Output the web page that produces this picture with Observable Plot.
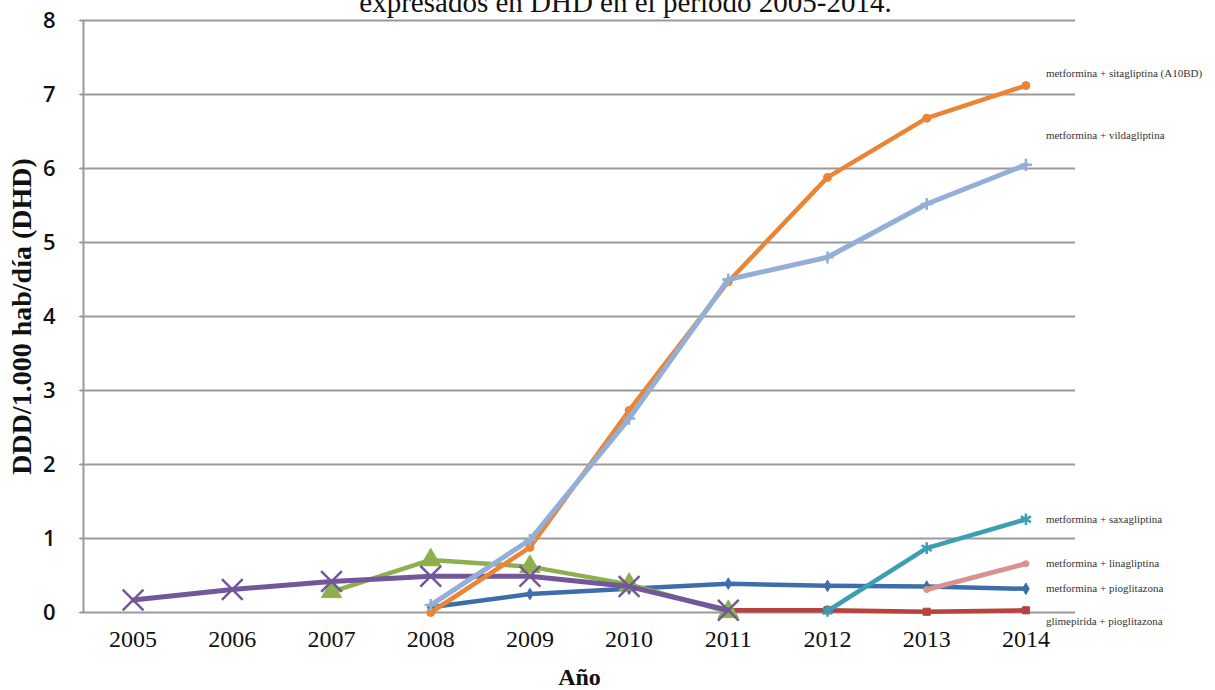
<!DOCTYPE html>
<html>
<head>
<meta charset="utf-8">
<script src="https://cdn.jsdelivr.net/npm/d3@7"></script>
<script src="https://cdn.jsdelivr.net/npm/@observablehq/plot@0.6"></script>
<style>
  body { margin: 0; background: #fff; }
  #chart { width: 1215px; height: 690px; }
</style>
</head>
<body>
<div id="chart"></div>
<script>
// Consumo de combinaciones de antidiabéticos orales (DHD), 2005-2014
const years = [2005, 2006, 2007, 2008, 2009, 2010, 2011, 2012, 2013, 2014];
const yTicks = [0, 1, 2, 3, 4, 5, 6, 7, 8];

const titleText = "expresados en DHD en el período 2005-2014.";
const yLabel = "DDD/1.000 hab/día (DHD)";
const xLabel = "Año";

const seriesNames = [
  "glimepirida + pioglitazona",
  "metformina + pioglitazona",
  "serie verde",
  "serie morada",
  "metformina + sitagliptina (A10BD)",
  "metformina + vildagliptina",
  "metformina + saxagliptina",
  "metformina + linagliptina"
];

const glimepiridaPioglitazona = [null, null, null, null, null, null, 0.03, 0.03, 0.01, 0.03];
const metforminaPioglitazona  = [null, null, null, 0.07, 0.25, 0.32, 0.39, 0.36, 0.35, 0.32];
const serieVerde              = [null, null, 0.28, 0.71, 0.62, 0.38, 0.01, null, null, null];
const serieMorada             = [0.17, 0.31, 0.42, 0.49, 0.49, 0.35, 0.03, null, null, null];
const metforminaSitagliptina  = [null, null, null, 0.00, 0.88, 2.73, 4.47, 5.88, 6.68, 7.12];
const metforminaVildagliptina = [null, null, null, 0.10, 0.98, 2.62, 4.50, 4.80, 5.52, 6.05];
const metforminaSaxagliptina  = [null, null, null, null, null, null, null, 0.02, 0.87, 1.26];
const metforminaLinagliptina  = [null, null, null, null, null, null, null, null, 0.31, 0.66];

const seriesValues = [
  glimepiridaPioglitazona, metforminaPioglitazona, serieVerde, serieMorada,
  metforminaSitagliptina, metforminaVildagliptina, metforminaSaxagliptina, metforminaLinagliptina
];

// Text labels drawn next to the 2014 end of a line (only some series carry one)
const labelled = [
  "metformina + sitagliptina (A10BD)",
  "metformina + vildagliptina",
  "metformina + saxagliptina",
  "metformina + linagliptina",
  "metformina + pioglitazona",
  "glimepirida + pioglitazona"
];

// Drawing style per series
const style = {
  "glimepirida + pioglitazona":        {color: "#B8423E", symbol: "square",   r: 4,   w: 4.5, labelDy: 11},
  "metformina + pioglitazona":         {color: "#3D6DAA", symbol: "diamond",  r: 3.5, w: 4.5, labelDy: 0},
  "serie verde":                       {color: "#8DB04C", symbol: "triangle", r: 7.5, w: 4.5},
  "serie morada":                      {color: "#74579A", symbol: "times",    r: 9.5, w: 5},
  "metformina + sitagliptina (A10BD)": {color: "#EB8535", symbol: "circle",   r: 4,   w: 4.5, labelDy: -12},
  "metformina + vildagliptina":        {color: "#93AFD8", symbol: "plus",     r: 4,   w: 5,   labelDy: -29},
  "metformina + saxagliptina":         {color: "#3C9EB3", symbol: "asterisk", r: 5.5, w: 4.5, labelDy: 0},
  "metformina + linagliptina":         {color: "#D8928F", symbol: "circle",   r: 3,   w: 5,   labelDy: 0}
};

const rows = [];
seriesNames.forEach((name, i) => {
  seriesValues[i].forEach((v, j) => {
    if (v != null) rows.push({serie: name, year: years[j], value: v});
  });
});

const serif = "Liberation Serif, Times New Roman, serif";
const marks = [];

// horizontal gridlines (0 … 8) and left axis line
marks.push(Plot.ruleY(yTicks, {stroke: "#9a9a9a", strokeWidth: 2, x1: 2004.47, x2: 2014.5}));
marks.push(Plot.ruleX([2004.5], {y1: 0, y2: 8, stroke: "#9a9a9a", strokeWidth: 2}));

// lines and markers
for (const name of seriesNames) {
  const s = style[name];
  const data = rows.filter(d => d.serie === name);
  marks.push(Plot.line(data, {x: "year", y: "value", stroke: s.color, strokeWidth: s.w,
    strokeLinejoin: "round", strokeLinecap: "round"}));
  const filled = s.symbol !== "times" && s.symbol !== "plus" && s.symbol !== "asterisk";
  marks.push(Plot.dot(data, {x: "year", y: "value", symbol: () => s.symbol, r: s.r,
    fill: filled ? s.color : "none", stroke: s.color, strokeWidth: filled ? 1 : 2.5}));
}

// series names to the right of the last point
for (const name of labelled) {
  const s = style[name];
  const last = rows.filter(d => d.serie === name).at(-1);
  marks.push(Plot.text([last], {x: "year", y: "value", text: () => name,
    textAnchor: "start", dx: 20, dy: s.labelDy, fontSize: 11, fill: "#333",
    fontFamily: serif, letterSpacing: "1.3px"}));
}

// axes
marks.push(Plot.axisY(yTicks, {tickSize: 4, tickPadding: 24, stroke: "#9a9a9a",
  tickFormat: d => String(d), fontSize: 22, fontWeight: 600,
  fontFamily: "Open Sans, sans-serif", fill: "#111", label: null}));
marks.push(Plot.axisX(years, {tickSize: 0, tickPadding: 17, tickFormat: d => String(d),
  fontSize: 24, fontFamily: serif, fill: "#111", label: null}));

// axis titles and the (partly cut) heading
marks.push(Plot.text([yLabel], {frameAnchor: "left", textAnchor: "middle", rotate: -90, dx: -61,
  fontSize: 28, fontWeight: "bold", fontFamily: serif, fill: "#111"}));
marks.push(Plot.text([xLabel], {frameAnchor: "bottom", dy: 72,
  fontSize: 24, fontWeight: "bold", fontFamily: serif, fill: "#111"}));
marks.push(Plot.text([titleText], {frameAnchor: "top", lineAnchor: "bottom", dx: 46, dy: -9,
  fontSize: 29, fontFamily: serif, fill: "#111"}));

const chart = Plot.plot({
  width: 1215,
  height: 690,
  marginLeft: 83,
  marginRight: 140,
  marginTop: 20,
  marginBottom: 78,
  x: {type: "linear", domain: [2004.5, 2014.5]},
  y: {domain: [0, 8]},
  style: {background: "#fff", overflow: "visible"},
  marks
});
document.getElementById("chart").appendChild(chart);
</script>
</body>
</html>
